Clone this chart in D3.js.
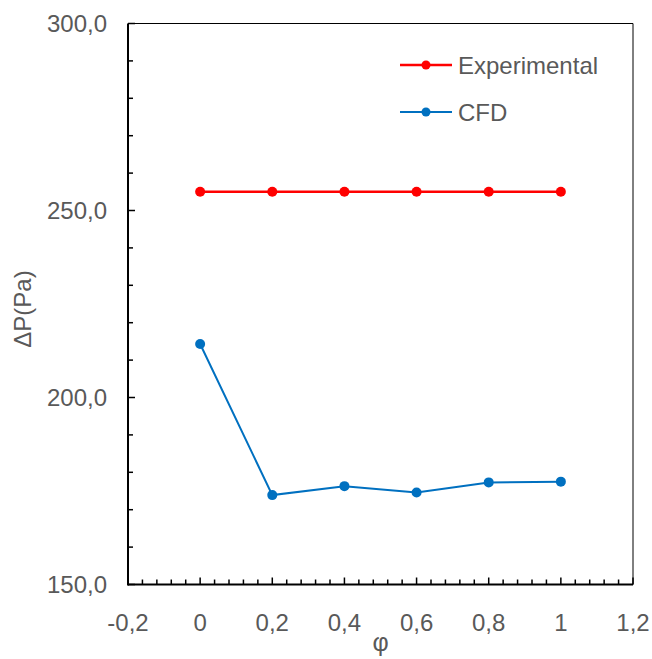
<!DOCTYPE html>
<html>
<head>
<meta charset="utf-8">
<script src="https://cdn.jsdelivr.net/npm/d3@7"></script>
<style>
  body { margin: 0; background: #fff; }
  text { font-family: "Liberation Sans", Arial, sans-serif; fill: #595959; }
</style>
</head>
<body>
<div id="viz"></div>
<script>
var width = 652, height = 659;
var margin = {top: 23.5, right: 19, bottom: 74.5, left: 128};

// data
var phi = [0, 0.2, 0.4, 0.6, 0.8, 1];
var experimental = [255.0, 255.0, 255.0, 255.0, 255.0, 255.0];
var cfd = [214.3, 173.9, 176.3, 174.6, 177.3, 177.5];
var xTicks = [-0.2, 0, 0.2, 0.4, 0.6, 0.8, 1, 1.2];
var yTicks = [150, 200, 250, 300];

var series = [
  {name: "Experimental", values: experimental, color: "#ff0000", lw: 2.5, r: 5},
  {name: "CFD", values: cfd, color: "#0070c0", lw: 2, r: 5}
];

var svg = d3.select("#viz").append("svg").attr("width", width).attr("height", height);

var x = d3.scaleLinear().domain([-0.2, 1.2]).range([margin.left, width - margin.right]);
var y = d3.scaleLinear().domain([150, 300]).range([height - margin.bottom, margin.top]);

var fmtX = function(d) { return String(+d.toFixed(1)).replace(".", ","); };
var fmtY = function(d) { return d.toFixed(1).replace(".", ","); };

// frame top / right
svg.append("path")
    .attr("d", "M" + x(-0.2) + "," + y(300) + "H" + x(1.2) + "V" + y(150))
    .attr("fill", "none")
    .attr("stroke", "#000")
    .attr("stroke-width", 1);

// minor ticks
var xMinor = d3.range(-0.2, 1.2001, 0.04);
svg.append("g").selectAll("line")
    .data(xMinor)
  .enter().append("line")
    .attr("x1", function(d) { return x(d); })
    .attr("x2", function(d) { return x(d); })
    .attr("y1", y(150))
    .attr("y2", function(d, i) { return y(150) - (i % 5 == 0 ? 7 : 5); })
    .attr("stroke", "#000")
    .attr("stroke-width", 1.5);

var yMinor = d3.range(150, 300.1, 10);
svg.append("g").selectAll("line")
    .data(yMinor)
  .enter().append("line")
    .attr("y1", function(d) { return y(d); })
    .attr("y2", function(d) { return y(d); })
    .attr("x1", x(-0.2))
    .attr("x2", function(d, i) { return x(-0.2) + (i % 5 == 0 ? 7 : 5); })
    .attr("stroke", "#000")
    .attr("stroke-width", 1.5);

// axes lines
svg.append("line")
    .attr("x1", x(-0.2)).attr("x2", x(1.2))
    .attr("y1", y(150)).attr("y2", y(150))
    .attr("stroke", "#000").attr("stroke-width", 2);
svg.append("line")
    .attr("x1", x(-0.2)).attr("x2", x(-0.2))
    .attr("y1", y(150) + 1).attr("y2", y(300))
    .attr("stroke", "#000").attr("stroke-width", 2);

// tick labels
svg.append("g").selectAll("text")
    .data(xTicks)
  .enter().append("text")
    .attr("x", function(d) { return x(d); })
    .attr("y", y(150) + 46)
    .attr("text-anchor", "middle")
    .style("font-size", "24px")
    .text(fmtX);

svg.append("g").selectAll("text")
    .data(yTicks)
  .enter().append("text")
    .attr("x", x(-0.2) - 21)
    .attr("y", function(d) { return y(d) + 8.5; })
    .attr("text-anchor", "end")
    .style("font-size", "24px")
    .text(fmtY);

// axis titles
svg.append("text")
    .attr("x", (x(-0.2) + x(1.2)) / 2)
    .attr("y", 651)
    .attr("text-anchor", "middle")
    .style("font-size", "25px")
    .text("φ");

svg.append("text")
    .attr("transform", "translate(31,309) rotate(-90)")
    .attr("text-anchor", "middle")
    .style("font-size", "24px")
    .text("ΔP(Pa)");

// series
var line = d3.line()
    .x(function(d, i) { return x(phi[i]); })
    .y(function(d) { return y(d); });

series.forEach(function(s) {
  svg.append("path")
      .datum(s.values)
      .attr("d", line)
      .attr("fill", "none")
      .attr("stroke", s.color)
      .attr("stroke-width", s.lw);

  svg.append("g").selectAll("circle")
      .data(s.values)
    .enter().append("circle")
      .attr("cx", function(d, i) { return x(phi[i]); })
      .attr("cy", function(d) { return y(d); })
      .attr("r", s.r)
      .attr("fill", s.color);
});

// legend
var legend = svg.append("g").selectAll("g")
    .data(series)
  .enter().append("g")
    .attr("transform", function(d, i) { return "translate(400," + (65 + i * 47) + ")"; });

legend.append("line")
    .attr("x1", 0).attr("x2", 52)
    .attr("stroke", function(d) { return d.color; })
    .attr("stroke-width", function(d) { return d.lw; });

legend.append("circle")
    .attr("cx", 26)
    .attr("r", 4.5)
    .attr("fill", function(d) { return d.color; });

legend.append("text")
    .attr("x", 58)
    .attr("y", 8.5)
    .style("font-size", "24px")
    .text(function(d) { return d.name; });
</script>
</body>
</html>
